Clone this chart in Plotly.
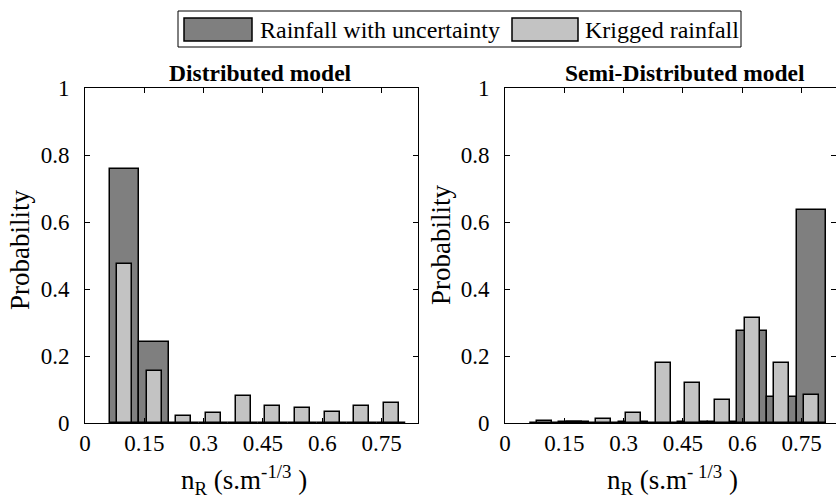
import plotly.graph_objects as go

# ---- data ----
bin_centers = [0.1, 0.175, 0.25, 0.325, 0.4, 0.475, 0.55, 0.625, 0.7, 0.775]
dist_uncert = [0.759, 0.243, 0, 0, 0, 0, 0, 0, 0, 0]
dist_kriged = [0.476, 0.154, 0.022, 0.030, 0.080, 0.050, 0.046, 0.034, 0.051, 0.060]
semi_uncert = [0, 0.002, 0, 0.003, 0, 0.003, 0.004, 0.274, 0.077, 0.637]
semi_kriged = [0.007, 0.004, 0.011, 0.031, 0.178, 0.120, 0.068, 0.314, 0.178, 0.084]
xtick_vals = [0, 0.15, 0.3, 0.45, 0.6, 0.75]
xtick_text = ["0", "0.15", "0.3", "0.45", "0.6", "0.75"]
ytick_vals = [0, 0.2, 0.4, 0.6, 0.8, 1]
ytick_text = ["0", "0.2", "0.4", "0.6", "0.8", "1"]
series_names = ["Rainfall with uncertainty", "Krigged rainfall"]
titles = ["Distributed model", "Semi-Distributed model"]

W, H = 836, 502
T, B = 88, 79
DARK = "#7f7f7f"
LIGHT = "#c3c3c3"
FONT = "Liberation Serif"

def px_x(x):
    return x / W

def px_y(y):
    return (H - B - y) / (H - T - B)

fig = go.Figure()
for xa, ya, unc, kri in [("x", "y", dist_uncert, dist_kriged), ("x2", "y2", semi_uncert, semi_kriged)]:
    fig.add_trace(go.Bar(x=bin_centers, y=unc, width=0.075, xaxis=xa, yaxis=ya,
                         marker=dict(color=DARK, line=dict(color="black", width=1.5)),
                         showlegend=False, name=series_names[0]))
    fig.add_trace(go.Bar(x=bin_centers, y=kri, width=0.038, xaxis=xa, yaxis=ya,
                         marker=dict(color=LIGHT, line=dict(color="black", width=1.5)),
                         showlegend=False, name=series_names[1]))

axis_common = dict(showline=True, linecolor="black", linewidth=1, mirror="ticks",
                   ticks="inside", ticklen=5, tickcolor="black", showgrid=False,
                   zeroline=False, automargin=False,
                   tickfont=dict(family=FONT, size=23, color="black"))

fig.update_layout(
    width=W, height=H, margin=dict(l=0, r=0, t=T, b=B, pad=0, autoexpand=False),
    font=dict(family=FONT, size=22, color="black"),
    paper_bgcolor="white", plot_bgcolor="white", barmode="overlay", bargap=0,
    showlegend=False,
    xaxis=dict(domain=[px_x(85), px_x(418)], range=[0, 0.842], tickvals=xtick_vals,
               ticktext=xtick_text, ticklabelstandoff=-1, anchor="y", **axis_common),
    yaxis=dict(domain=[0, 1], range=[0, 1], tickvals=ytick_vals, ticktext=ytick_text,
               ticklabelstandoff=10, anchor="x", **axis_common),
    xaxis2=dict(domain=[px_x(505), 1], range=[0, 0.837], tickvals=xtick_vals,
                ticktext=xtick_text, ticklabelstandoff=-1, anchor="y2", **axis_common),
    yaxis2=dict(domain=[0, 1], range=[0, 1], tickvals=ytick_vals, ticktext=ytick_text,
                ticklabelstandoff=10, anchor="x2", **axis_common),
)

def note(x, y, text, size, xanchor="center", angle=0):
    return dict(x=px_x(x), y=px_y(y), xref="paper", yref="paper", text=text,
                xanchor=xanchor, yanchor="middle", textangle=angle, showarrow=False,
                font=dict(family=FONT, size=size, color="black"))

ann = [
    note(260, 73, "<b>%s</b>" % titles[0], 23.5),
    note(685, 73, "<b>%s</b>" % titles[1], 23.5),
    note(20, 250, "Probability", 27, angle=-90),
    note(441, 245, "Probability", 27, angle=-90),
    note(244, 480, "n<sub>R</sub> (s.m<sup>-1/3</sup> )", 27),
    note(672, 480, "n<sub>R</sub> (s.m<sup>- 1/3</sup> )", 27),
    note(258, 30, series_names[0], 24, xanchor="left"),
    note(583, 30, series_names[1], 24, xanchor="left"),
]
fig.update_layout(annotations=ann)

shapes = [
    dict(type="rect", xref="paper", yref="paper", x0=px_x(178), x1=px_x(741), y0=px_y(47), y1=px_y(11),
         line=dict(color="black", width=1), fillcolor="white", layer="below"),
    dict(type="rect", xref="paper", yref="paper", x0=px_x(184), x1=px_x(252), y0=px_y(41), y1=px_y(18),
         line=dict(color="black", width=1.5), fillcolor=DARK),
    dict(type="rect", xref="paper", yref="paper", x0=px_x(512), x1=px_x(578), y0=px_y(41), y1=px_y(18),
         line=dict(color="black", width=1.5), fillcolor=LIGHT),
]
fig.update_layout(shapes=shapes)

fig.write_html("out.html")
